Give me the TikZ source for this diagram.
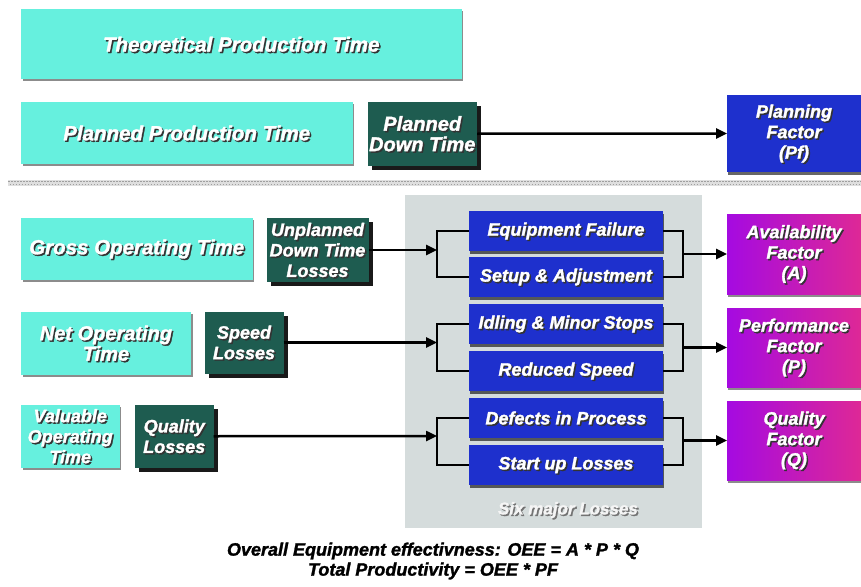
\documentclass[tikz,border=0pt]{standalone}
\usepackage{fontspec}
\setmainfont{Liberation Sans}[BoldItalicFeatures={FakeBold=1.6}]
\usetikzlibrary{arrows.meta,fit,shadows,calc}
\definecolor{turq}{RGB}{102,240,222}
\definecolor{dgreen}{RGB}{30,92,80}
\definecolor{lblue}{RGB}{30,48,205}
\definecolor{panelgray}{RGB}{213,220,220}
\definecolor{purpL}{RGB}{165,10,225}
\definecolor{purpR}{RGB}{222,40,150}
\tikzset{
 boxbase/.style={rectangle, inner sep=0pt, outer sep=0pt, draw=none},
 tbox/.style={boxbase, fill=turq, drop shadow={shadow xshift=1.5pt, shadow yshift=-2pt, opacity=.45, fill=black}},
 gbox/.style={boxbase, fill=dgreen, drop shadow={shadow xshift=4pt, shadow yshift=-4pt, opacity=.9, fill=black}},
 bbox/.style={boxbase, fill=lblue, drop shadow={shadow xshift=1pt, shadow yshift=-3pt, opacity=.6, fill=black}},
 pbox/.style={boxbase, left color=purpL, right color=purpR, drop shadow={shadow xshift=1pt, shadow yshift=-3pt, opacity=.45, fill=black}},
 txt/.style={inner sep=0pt, align=center, text=white, font=\bfseries\itshape\fontsize{20.5}{20.5}\selectfont},
 fs18/.style={font=\bfseries\itshape\fontsize{18}{20.5}\selectfont},
 fs20/.style={font=\bfseries\itshape\fontsize{20}{20.5}\selectfont},
 conn/.style={line width=2.5pt, black},
 arr/.style={conn, -{Triangle[length=11pt,width=10pt]}},
}
\newcommand\bx[6][]{\node[#1, fit={(#3,#4) (#5,#6)}] (#2) {};}
\newcommand\lbl[3][]{%
 \node[txt,#1,text=black!80] (#2-s) at ([xshift=1.5pt,yshift=-1.5pt]#2.center) {#3};
 \node[txt,#1] (#2-t) at (#2.center) {#3};}
\begin{document}
\begin{tikzpicture}[x=1pt,y=-1pt]
\useasboundingbox (0,0) rectangle (861,586);
% separator band
\fill[gray!25] (8,180) rectangle (861,186);
\draw[gray!75, line width=1.5pt, dash pattern=on 1.5pt off 1.5pt] (8,181.5) -- (861,181.5);
\draw[gray!75, line width=1.5pt, dash pattern=on 1.5pt off 1.5pt, dash phase=1.5pt] (8,184.5) -- (861,184.5);
% panel
\bx[boxbase, fill=panelgray]{panel}{405}{195}{702}{528}
% top rows
\bx[tbox]{TPT}{21}{9.5}{461.5}{79}
\bx[tbox]{PPT}{21}{102}{352.5}{164}
\bx[gbox]{PDT}{367.5}{102}{477}{165.5}
\bx[bbox]{PF}{727}{95}{861}{172}
% left column
\bx[tbox]{GOT}{21}{218}{252.5}{280}
\bx[gbox]{UDT}{266.5}{218}{368.5}{282}
\bx[tbox]{NOT}{21}{311.5}{191}{375}
\bx[gbox]{SPL}{204.5}{311.5}{283.5}{373.5}
\bx[tbox]{VOT}{21}{405}{119.5}{467.5}
\bx[gbox]{QL}{135}{405}{213.5}{467.5}
% six losses
\bx[bbox]{EF}{469}{211}{663}{251}
\bx[bbox]{SA}{469}{257}{663}{297}
\bx[bbox]{IM}{469}{304}{663}{344}
\bx[bbox]{RS}{469}{351}{663}{391}
\bx[bbox]{DP}{469}{398}{663}{438}
\bx[bbox]{SU}{469}{445}{663}{485}
% factors
\bx[pbox]{AF}{727}{214}{861}{294}
\bx[pbox]{PRF}{727}{308}{861}{387}
\bx[pbox]{QF}{727}{401}{861}{480}
% labels
\lbl{TPT}{Theoretical Production Time}
\lbl{PPT}{Planned Production Time}
\lbl[fs20]{PDT}{Planned\\Down Time}
\lbl[fs18]{PF}{Planning\\Factor\\(Pf)}
\lbl{GOT}{Gross Operating Time}
\lbl[fs18]{UDT}{Unplanned\\Down Time\\Losses}
\lbl[fs20]{NOT}{Net Operating\\Time}
\lbl[fs18]{SPL}{Speed\\Losses}
\lbl[fs18]{VOT}{Valuable\\Operating\\Time}
\lbl[fs18]{QL}{Quality\\Losses}
\lbl[fs18]{EF}{Equipment Failure}
\lbl[fs18]{SA}{Setup \& Adjustment}
\lbl[fs18]{IM}{Idling \& Minor Stops}
\lbl[fs18]{RS}{Reduced Speed}
\lbl[fs18]{DP}{Defects in Process}
\lbl[fs18]{SU}{Start up Losses}
\lbl[fs18]{AF}{Availability\\Factor\\(A)}
\lbl[fs18]{PRF}{Performance\\Factor\\(P)}
\lbl[fs18]{QF}{Quality\\Factor\\(Q)}
\node[txt, text=black!55, font=\bfseries\itshape\fontsize{17}{17}\selectfont] (six-s) at (569.5,511.5) {Six major Losses};
\node[txt, text=gray!8, font=\bfseries\itshape\fontsize{17}{17}\selectfont] (six) at (568,510) {Six major Losses};
% junction coordinates
\coordinate (j1) at (437,250);
\coordinate (j2) at (437,342.5);
\coordinate (j3) at (437,436);
\coordinate (k1) at (683,254);
\coordinate (k2) at (683,347.5);
\coordinate (k3) at (683,440.5);
% connectors
\draw[arr] (PDT.east) -- (PF.west);
\draw[arr] (UDT.east) -- (j1);
\draw[arr] (SPL.east) -- (j2);
\draw[arr] (QL.east) -- (j3);
\draw[conn] (EF.west) -| (j1) |- (SA.west);
\draw[conn] (IM.west) -| (j2) |- (RS.west);
\draw[conn] (DP.west) -| (j3) |- (SU.west);
\draw[conn] (EF.east) -| (k1) |- (SA.east);
\draw[conn] (IM.east) -| (k2) |- (RS.east);
\draw[conn] (DP.east) -| (k3) |- (SU.east);
\draw[arr] (k1) -- (AF.west);
\draw[arr] (k2) -- (PRF.west);
\draw[arr] (k3) -- (QF.west);
% formula
\node[inner sep=0pt, align=center, font=\bfseries\itshape\fontsize{18}{20}\selectfont] (oee) at (433,561) {Overall Equipment effectivness: OEE = A * P * Q\\Total Productivity = OEE * PF};
\end{tikzpicture}
\end{document}
